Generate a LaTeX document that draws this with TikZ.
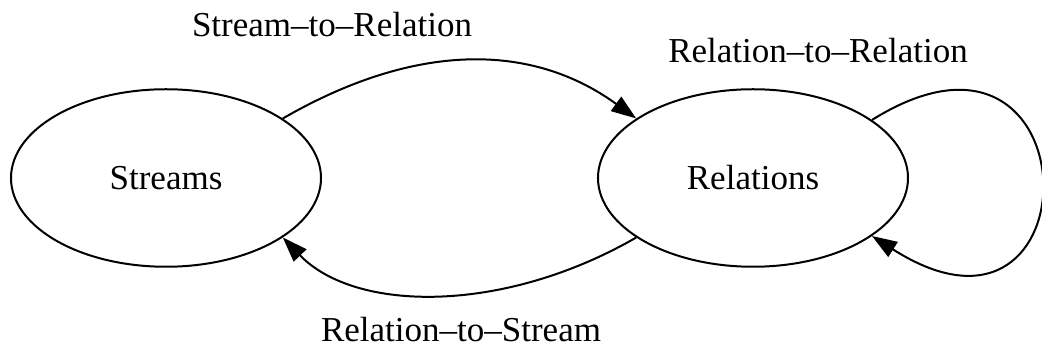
\documentclass[tikz,border=0pt]{standalone}
\usepackage{fontspec}
\setmainfont{Liberation Serif}
\usetikzlibrary{arrows.meta,shapes.geometric}

\tikzset{
  state/.style={ellipse, draw, line width=0.8pt, minimum width=124pt,
    minimum height=71pt, inner sep=0pt, font=\fontsize{14}{17}\selectfont},
  lbl/.style={inner sep=0pt, font=\fontsize{14}{17}\selectfont},
  link/.style={line width=0.8pt, -{Triangle[length=10pt,width=7pt]}}
}

\begin{document}
\begin{tikzpicture}[x=0.4pt,y=0.4pt]
\useasboundingbox (0,0) rectangle (1042,353);
\node[state] (streams) at (166,175) {Streams};
\node[state] (relations) at (753,175) {Relations};
% edge labels
\node[lbl] (s2r) at (332,328) {Stream--to--Relation};
\node[lbl] (r2r) at (818,302) {Relation--to--Relation};
\node[lbl] (r2s) at (461,23) {Relation--to--Stream};
% edges
\draw[link] (streams.27) .. controls +(30:61pt) and +(144:52pt) .. (relations.153);
\draw[link] (relations.207) .. controls +(210:61pt) and +(314:42pt) .. (streams.333);
\draw[link] (relations.26) .. controls +(89.6pt,56pt) and +(90.4pt,-57.6pt) .. (relations.-26);
\end{tikzpicture}
\end{document}
